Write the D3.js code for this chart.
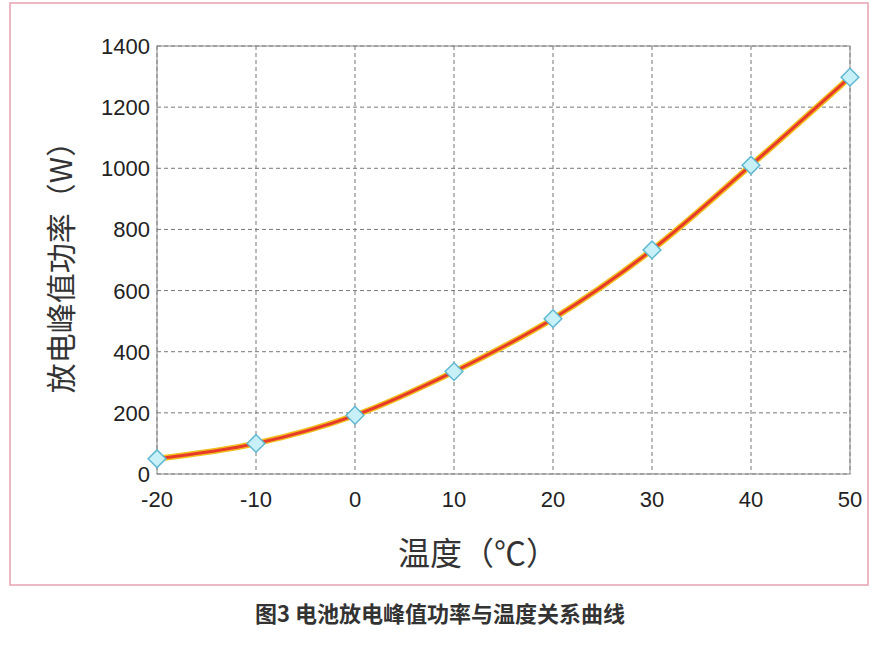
<!DOCTYPE html><html><head><meta charset="utf-8"><script src="https://cdn.jsdelivr.net/npm/d3@7"></script>
<style>body{margin:0;background:#fff}</style></head><body><svg id="c" width="888" height="645"></svg>
<script>
const temps=[-20,-10,0,10,20,30,40,50];
const power=[50,100,192,335,508,733,1010,1298];
const yTicks=[0,200,400,600,800,1000,1200,1400];
const svg=d3.select("#c");
svg.append("rect").attr("x",10).attr("y",3).attr("width",858).attr("height",582).attr("fill","none").attr("stroke","#e8a0b0").attr("stroke-width",1.5);
const x=d3.scaleLinear().domain([-20,50]).range([157,850]);
const y=d3.scaleLinear().domain([0,1400]).range([474,46]);
const g=svg.append("g");
g.selectAll(".vx").data(temps).enter().append("line").attr("x1",d=>x(d)).attr("x2",d=>x(d)).attr("y1",46).attr("y2",474).attr("stroke","#777").attr("stroke-dasharray","4,3");
g.selectAll(".hy").data(yTicks).enter().append("line").attr("x1",157).attr("x2",850).attr("y1",d=>y(d)).attr("y2",d=>y(d)).attr("stroke","#777").attr("stroke-dasharray","4,3");
g.append("rect").attr("x",157).attr("y",46).attr("width",693).attr("height",428).attr("fill","none").attr("stroke","#888");
const f="Liberation Sans, Arial, sans-serif";
svg.append("g").selectAll("text").data(yTicks).enter().append("text").attr("x",150).attr("y",d=>y(d)+8).attr("text-anchor","end").attr("font-family",f).attr("font-size",22).attr("fill","#222").text(d=>d);
svg.append("g").selectAll("text").data(temps).enter().append("text").attr("x",d=>x(d)).attr("y",507).attr("text-anchor","middle").attr("font-family",f).attr("font-size",22).attr("fill","#222").text(d=>d);
const pts=temps.map((t,i)=>[t,power[i]]);
const line=d3.line().x(d=>x(d[0])).y(d=>y(d[1])).curve(d3.curveMonotoneX);
svg.append("path").datum(pts).attr("d",line).attr("fill","none").attr("stroke","#f0c020").attr("stroke-width",6);
svg.append("path").datum(pts).attr("d",line).attr("fill","none").attr("stroke","#e83a2a").attr("stroke-width",3);
svg.append("g").selectAll("path").data(pts).enter().append("path").attr("d",d3.symbol().type(d3.symbolDiamond2).size(200)).attr("transform",d=>`translate(${x(d[0])},${y(d[1])})`).attr("fill","#c8f0f8").attr("stroke","#60b8d0").attr("stroke-width",1.5);
svg.append("text").attr("transform","translate(72,260) rotate(-90)").attr("text-anchor","middle").attr("font-family","Noto Sans CJK SC").attr("font-size",30).attr("fill","#333").text("放电峰值功率（W）");
svg.append("text").attr("x",478).attr("y",565).attr("text-anchor","middle").attr("font-family","Noto Sans CJK SC").attr("font-size",32).attr("fill","#333").text("温度（℃）");
svg.append("text").attr("x",440).attr("y",622).attr("text-anchor","middle").attr("font-family","Noto Sans CJK SC").attr("font-weight","bold").attr("font-size",22).attr("fill","#333").text("图3 电池放电峰值功率与温度关系曲线");
</script></body></html>
